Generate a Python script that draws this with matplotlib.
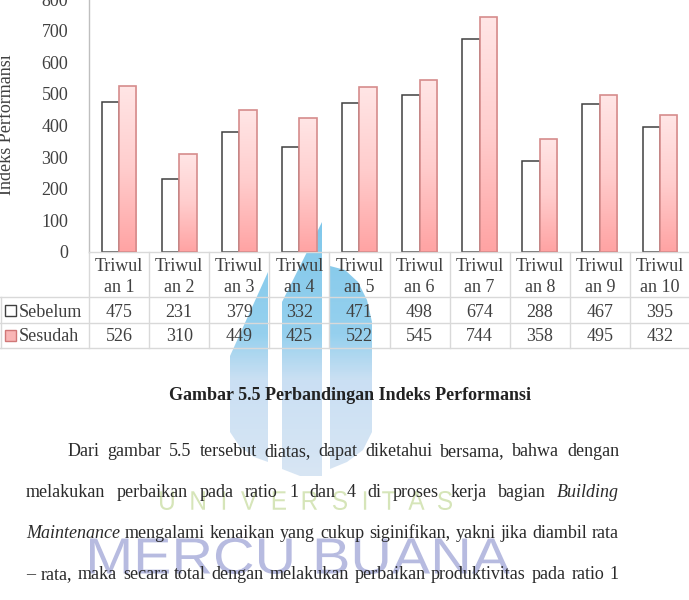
import numpy as np
import matplotlib
matplotlib.use("Agg")
import matplotlib.pyplot as plt
from matplotlib import transforms
from matplotlib.colors import LinearSegmentedColormap
from matplotlib.patches import Rectangle, Polygon, PathPatch
from matplotlib.textpath import TextPath
from matplotlib.font_manager import FontProperties

# ---------------- data ----------------
categories = ["Triwulan 1", "Triwulan 2", "Triwulan 3", "Triwulan 4", "Triwulan 5",
              "Triwulan 6", "Triwulan 7", "Triwulan 8", "Triwulan 9", "Triwulan 10"]
sebelum = [475, 231, 379, 332, 471, 498, 674, 288, 467, 395]
sesudah = [526, 310, 449, 425, 522, 545, 744, 358, 495, 432]
series_names = ["Sebelum", "Sesudah"]
y_ticks = [0, 100, 200, 300, 400, 500, 600, 700, 800]
y_label = "Indeks Performansi"
caption = "Gambar 5.5 Perbandingan Indeks Performansi"
paragraph = [
    "Dari gambar 5.5 tersebut diatas, dapat diketahui bersama, bahwa dengan",
    "melakukan perbaikan pada ratio 1 dan 4 di proses kerja bagian _Building_",
    "_Maintenance_ mengalami kenaikan yang cukup siginifikan, yakni jika diambil rata",
    "\u2013 rata, maka secara total dengan melakukan perbaikan produktivitas pada ratio 1",
]

# ---------------- figure ----------------
W, H = 689, 600
plt.rcParams['font.family'] = ['Liberation Serif', 'DejaVu Serif']
fig = plt.figure(figsize=(W / 100, H / 100), dpi=100)
fig.patch.set_facecolor('white')

# page overlay in pixel coordinates (y downward)
doc = fig.add_axes([0, 0, 1, 1], zorder=0)
doc.axis('off')

TXT = '#404040'

# ---------------- watermark ----------------
wm_cmap = LinearSegmentedColormap.from_list(
    'wm', [(0.0, '#5fbae6'), (0.45, '#7cc5ea'), (0.62, '#bdd8f0'), (1.0, '#cfe0f2')])
wm_grad = np.linspace(0, 1, 256).reshape(-1, 1)
logo_parts = [
    [(230, 356), (268, 272), (268, 462), (254, 457), (240, 447), (230, 432)],
    [(282, 302), (322, 222), (322, 476), (300, 476), (282, 469)],
    [(330, 266), (345, 270), (358, 282), (367, 300), (372, 322), (372, 432),
     (363, 450), (347, 462), (330, 469)],
]
for pts in logo_parts:
    poly = Polygon(pts, closed=True, facecolor='none', edgecolor='none')
    doc.add_patch(poly)
    im = doc.imshow(wm_grad, extent=(225, 380, 480, 215), cmap=wm_cmap,
                    aspect='auto', interpolation='bilinear', zorder=1, alpha=0.8)
    im.set_clip_path(poly)


def fit_text(s, box, color, family, alpha=1.0):
    tp = TextPath((0, 0), s, size=50, prop=FontProperties(family=family))
    ext = tp.get_extents()
    x0, y0, x1, y1 = box
    sx = (x1 - x0) / ext.width
    sy = (y1 - y0) / ext.height
    tr = transforms.Affine2D().translate(-ext.x0, -ext.y0).scale(sx, -sy).translate(x0, y1)
    doc.add_patch(PathPatch(tr.transform_path(tp), facecolor=color, edgecolor='none',
                            zorder=2, alpha=alpha))


fit_text("U  N  I  V  E  R  S  I  T  A  S", (160, 491, 452, 510), '#d6e5b9', 'Liberation Sans')
fit_text("MERCU BUANA", (90, 538, 510, 574), '#b7bbe0', 'Liberation Sans')

doc.set_xlim(0, W)
doc.set_ylim(H, 0)

# ---------------- chart ----------------
ax = fig.add_axes([89 / W, 1 - 252 / H, 601 / W, 253 / H], zorder=1)
ax.set_facecolor('none')
x = np.arange(len(categories))
bw = 0.29
bars1 = ax.bar(x - bw / 2, sebelum, bw, facecolor='white', edgecolor='#404040',
               linewidth=1.1, zorder=2, label=series_names[0])
bars2 = ax.bar(x + bw / 2, sesudah, bw, facecolor='none', edgecolor='#d68c8c',
               linewidth=1.2, zorder=4, label=series_names[1])
pink = LinearSegmentedColormap.from_list('pink', ['#ffe6e6', '#ffcdcd', '#ffa3a3'])
grad = np.linspace(0, 1, 256).reshape(-1, 1)
for b in bars2:
    im = ax.imshow(grad, extent=(b.get_x(), b.get_x() + b.get_width(), 0, b.get_height()),
                   cmap=pink, aspect='auto', interpolation='bilinear', zorder=3)
    im.set_clip_path(b)

ax.set_aspect('auto')
ax.set_xlim(-0.5, len(categories) - 0.5)
ax.set_ylim(0, 800)
ax.set_yticks(y_ticks)
ax.set_xticks([])
ax.tick_params(axis='y', length=0, pad=15, labelsize=13, labelcolor=TXT)
for s in ['top', 'right']:
    ax.spines[s].set_visible(False)
ax.spines['left'].set_color('#bfbfbf')
ax.spines['bottom'].set_color('#d9d9d9')
ax.spines['left'].set_linewidth(1.0)
ax.spines['bottom'].set_linewidth(1.0)

doc.text(7, 125, y_label, rotation=90, ha='center', va='center', fontsize=13,
         color=TXT, zorder=5)

# ---------------- data table ----------------
bt = transforms.blended_transform_factory(ax.transData, doc.transData)
GRID = '#d9d9d9'
for i, c in enumerate(categories):
    ax.text(i, 271, c[:6], transform=bt, ha='center', va='baseline', fontsize=13,
            color=TXT, clip_on=False)
    ax.text(i, 292, c[6:], transform=bt, ha='center', va='baseline', fontsize=13,
            color=TXT, clip_on=False)
    ax.text(i, 317, f"{sebelum[i]}", transform=bt, ha='center', va='baseline',
            fontsize=13, color=TXT, clip_on=False)
    ax.text(i, 341, f"{sesudah[i]}", transform=bt, ha='center', va='baseline',
            fontsize=13, color=TXT, clip_on=False)
for i in range(len(categories) + 1):
    ax.plot([i - 0.5, i - 0.5], [252, 348], transform=bt, color=GRID, lw=1.0,
            clip_on=False, zorder=1)
for yy in [297, 323, 348]:
    doc.plot([0, W], [yy, yy], color=GRID, lw=1.0, zorder=3)
doc.plot([0.5, 0.5], [297, 348], color=GRID, lw=1.0, zorder=3)

# legend keys
doc.add_patch(Rectangle((5, 305), 11, 11, facecolor='white', edgecolor='#404040',
                        lw=1.0, zorder=5))
doc.add_patch(Rectangle((5, 330), 11, 11, facecolor='#f9b6b6', edgecolor='#d07878',
                        lw=1.0, zorder=5))
doc.text(19, 317, series_names[0], ha='left', va='baseline', fontsize=13, color=TXT, zorder=5)
doc.text(19, 341, series_names[1], ha='left', va='baseline', fontsize=13, color=TXT, zorder=5)

# ---------------- caption & paragraph ----------------
doc.text(350, 400, caption, ha='center', va='baseline', fontsize=13, fontweight='bold',
         color='#222222', zorder=5)

renderer = fig.canvas.get_renderer()
baselines = [456, 497, 538, 579]
lefts = [68, 26, 26, 26]
right = 619
MIN_GAP = 5.0

# first pass: measure at 12 pt to pick a size that lets every line fit
parsed = []
for line in paragraph:
    items = []
    for wd in line.split(' '):
        style = 'normal'
        if wd.startswith('_') and wd.endswith('_'):
            wd = wd.strip('_')
            style = 'italic'
        items.append((wd, style))
    parsed.append(items)

size_limits = []
for items, left in zip(parsed, lefts):
    tmp = [doc.text(0, 0, wd, fontsize=12, style=st) for wd, st in items]
    s = sum(t.get_window_extent(renderer).width for t in tmp)
    for t in tmp:
        t.remove()
    size_limits.append(12 * (right - left - MIN_GAP * (len(items) - 1)) / s)
body_size = min(14.0, min(size_limits))

for items, base, left in zip(parsed, baselines, lefts):
    texts = [doc.text(0, base, wd, ha='left', va='baseline', fontsize=body_size, style=st,
                      color='#2a2a2a', zorder=5) for wd, st in items]
    widths = [t.get_window_extent(renderer).width for t in texts]
    gap = (right - left - sum(widths)) / (len(texts) - 1)
    xx = left
    for t, wdt in zip(texts, widths):
        t.set_x(xx)
        xx += wdt + gap

doc.set_xlim(0, W)
doc.set_ylim(H, 0)
fig.savefig('out.png', dpi=100)
